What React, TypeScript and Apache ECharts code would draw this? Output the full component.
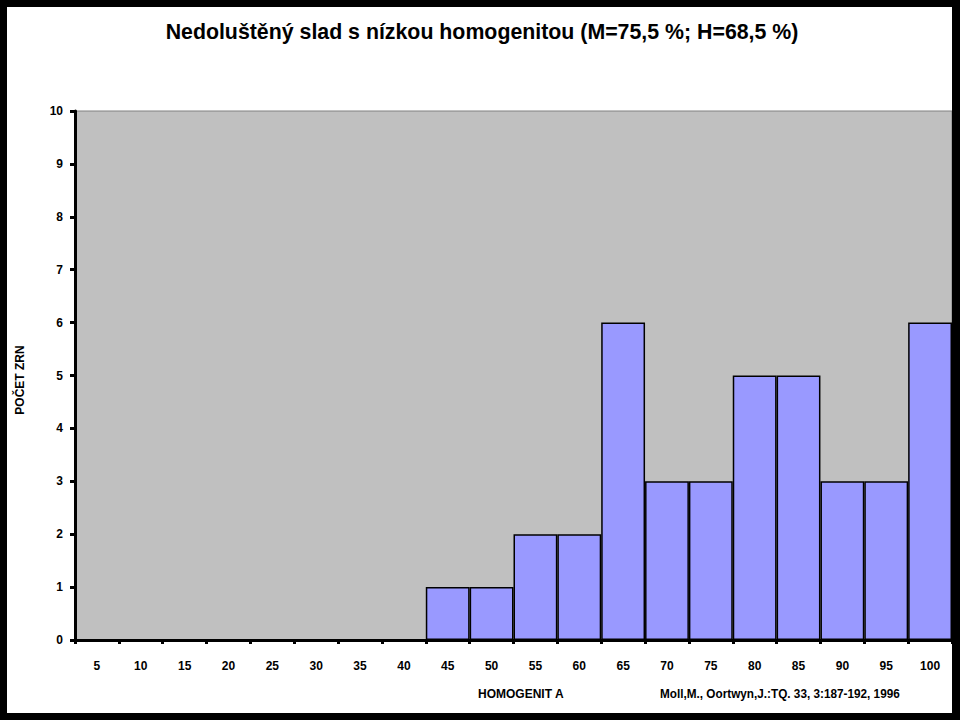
import React, { useEffect, useRef } from "react";
import * as echarts from "echarts";

const categories = ["5", "10", "15", "20", "25", "30", "35", "40", "45", "50", "55", "60", "65", "70", "75", "80", "85", "90", "95", "100"];
const counts = [0, 0, 0, 0, 0, 0, 0, 0, 1, 1, 2, 2, 6, 3, 3, 5, 5, 3, 3, 6];
const titleText = "Nedoluštěný slad s nízkou homogenitou (M=75,5 %; H=68,5 %)";
const yName = "POČET ZRN";
const xName = "HOMOGENIT A";
const citation = "Moll,M., Oortwyn,J.:TQ. 33, 3:187-192, 1996";

const FONT = "'Liberation Sans Narrow', 'Arial Narrow', 'Liberation Sans', Arial, sans-serif";

export default function App() {
  const ref = useRef<HTMLDivElement>(null);
  useEffect(() => {
    if (!ref.current) return;
    const chart = echarts.init(ref.current, null, { renderer: "svg" });
    chart.setOption({
      animation: false,
      backgroundColor: "#ffffff",
      grid: {
        left: 68,
        top: 104,
        right: 0,
        bottom: 73,
        show: true,
        backgroundColor: "#C0C0C0",
        borderColor: "#808080",
        borderWidth: 1,
      },
      xAxis: {
        type: "category",
        data: categories,
        boundaryGap: true,
        axisLine: { show: true, lineStyle: { color: "#000", width: 3 } },
        axisTick: { show: true, alignWithLabel: false, length: 4, lineStyle: { color: "#000", width: 3 } },
        axisLabel: { color: "#000", fontFamily: FONT, fontWeight: "bold", fontSize: 12, margin: 20 },
        splitLine: { show: false },
      },
      yAxis: {
        type: "value",
        min: 0,
        max: 10,
        interval: 1,
        axisLine: { show: true, lineStyle: { color: "#000", width: 3 } },
        axisTick: { show: true, length: 5, lineStyle: { color: "#000", width: 3 } },
        axisLabel: { color: "#000", fontFamily: FONT, fontWeight: "bold", fontSize: 12, margin: 12 },
        splitLine: { show: false },
      },
      series: [
        {
          type: "bar",
          data: counts,
          barCategoryGap: "0%",
          itemStyle: { color: "#9999FF", borderColor: "#000", borderWidth: 1.5 },
          z: 1,
        },
      ],
      graphic: [
        {
          type: "text",
          x: 475,
          y: 24,
          scaleX: 0.97,
          style: {
            text: titleText,
            fontFamily: FONT,
            fontWeight: "bold",
            fontSize: 22,
            fill: "#000",
            align: "center",
            verticalAlign: "middle",
          },
        },
        {
          type: "text",
          x: 13,
          y: 373,
          rotation: Math.PI / 2,
          style: {
            text: yName,
            fontFamily: FONT,
            fontWeight: "bold",
            fontSize: 12,
            fill: "#000",
            align: "center",
            verticalAlign: "middle",
          },
        },
        {
          type: "text",
          x: 471,
          y: 687,
          style: {
            text: xName,
            fontFamily: FONT,
            fontWeight: "bold",
            fontSize: 12,
            fill: "#000",
            align: "left",
            verticalAlign: "middle",
          },
        },
        {
          type: "text",
          x: 653,
          y: 687,
          scaleX: 0.98,
          style: {
            text: citation,
            fontFamily: FONT,
            fontWeight: "bold",
            fontSize: 12,
            fill: "#000",
            align: "left",
            verticalAlign: "middle",
          },
        },
      ],
    });
    return () => chart.dispose();
  }, []);
  return (
    <div style={{ position: "fixed", left: 0, top: 0, width: 960, height: 720, background: "#000" }}>
      <div ref={ref} style={{ position: "absolute", left: 7, top: 7, width: 945, height: 706 }} />
    </div>
  );
}
